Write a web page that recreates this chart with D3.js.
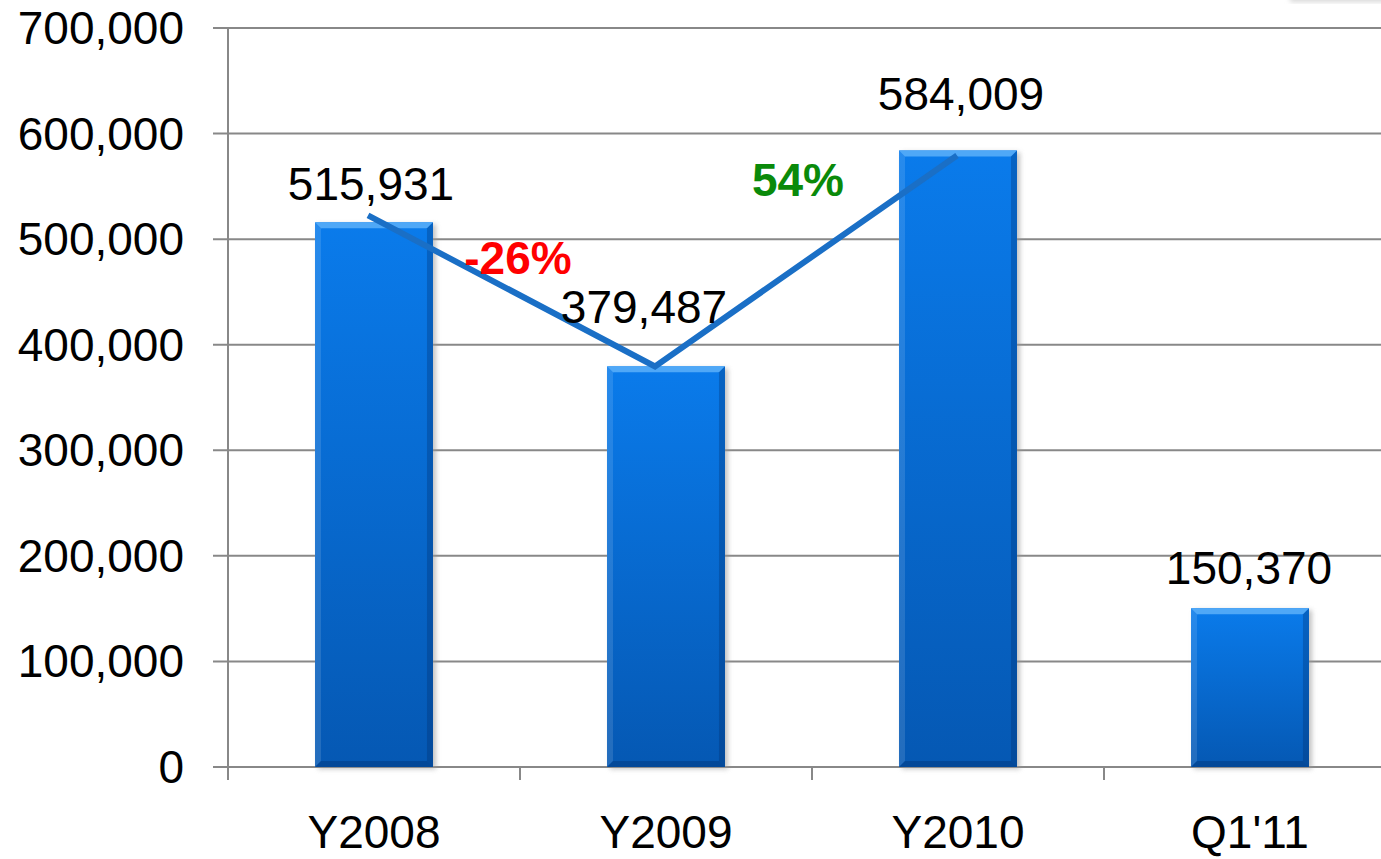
<!DOCTYPE html>
<html>
    <head>
        <meta charset="utf-8">
        <script type="text/javascript" src="https://cdn.jsdelivr.net/npm/d3@7/dist/d3.min.js"></script>
        <style>
            body { margin: 0; background: #fff; }
            text { font-family: "Liberation Sans", Arial, sans-serif; }
        </style>
    </head>
    <body>
        <svg></svg>

        <script>
            var categories = ["Y2008", "Y2009", "Y2010", "Q1'11"];
            var values = [515931, 379487, 584009, 150370];
            var yTicks = [0, 100000, 200000, 300000, 400000, 500000, 600000, 700000];

            // value label placement (px above bar top, x shift)
            var labelGap = [22, 43, 40, 24];
            var labelShift = [-3, -22, 3, -1];

            // trend line through first three bars
            var trendIdx = [0, 1, 2];
            var trendDx = [-6, -11, -1];
            var trendDy = [-7, 0, 5];
            var pctDx = [-2, -14];
            var pctDy = [-20, -62];
            var pctColors = ["#ff0000", "#0a8a0a"];

            var w = 1381, h = 859;

            var svg = d3.select("svg")
                    .attr("width", w)
                    .attr("height", h);

            var defs = svg.append("defs");

            var grad = defs.append("linearGradient")
                    .attr("id", "barGrad")
                    .attr("x1", 0).attr("y1", 0).attr("x2", 0).attr("y2", 1);
            grad.append("stop").attr("offset", "0%").attr("stop-color", "#0a7beb");
            grad.append("stop").attr("offset", "100%").attr("stop-color", "#0558b3");

            defs.append("filter")
                    .attr("id", "shadow")
                    .attr("x", "-20%").attr("y", "-20%").attr("width", "140%").attr("height", "140%")
                    .append("feGaussianBlur").attr("stdDeviation", 2.5);

            var x = d3.scaleBand()
                    .domain(categories)
                    .range([228, 1396])
                    .paddingInner(0.596)
                    .paddingOuter(0.298);

            var y = d3.scaleLinear()
                    .domain([0, 700000])
                    .range([767, 28]);

            // faint shadow at top right
            svg.append("rect")
                    .attr("x", 1290).attr("y", -8).attr("width", 110).attr("height", 10)
                    .attr("fill", "#d8d8d8")
                    .attr("filter", "url(#shadow)");

            // gridlines
            svg.append("g")
                    .selectAll("line")
                    .data(yTicks)
                    .enter().append("line")
                    .attr("x1", 213)
                    .attr("x2", w)
                    .attr("y1", function(d) { return y(d); })
                    .attr("y2", function(d) { return y(d); })
                    .attr("stroke", "#888")
                    .attr("stroke-width", 2);

            // y axis line
            svg.append("line")
                    .attr("x1", 228).attr("x2", 228)
                    .attr("y1", y(700000)).attr("y2", 780)
                    .attr("stroke", "#888")
                    .attr("stroke-width", 2);

            // x tick marks on category boundaries
            var step = x.step();
            svg.append("g")
                    .selectAll("line")
                    .data(d3.range(categories.length + 1))
                    .enter().append("line")
                    .attr("x1", function(i) { return x.range()[0] + i * step; })
                    .attr("x2", function(i) { return x.range()[0] + i * step; })
                    .attr("y1", y(0))
                    .attr("y2", 780)
                    .attr("stroke", "#888")
                    .attr("stroke-width", 2);

            // y tick labels
            var fmt = d3.format(",");
            svg.append("g")
                    .selectAll("text")
                    .data(yTicks)
                    .enter().append("text")
                    .attr("x", 184)
                    .attr("y", function(d) { return y(d) + 16; })
                    .attr("text-anchor", "end")
                    .attr("font-size", 46)
                    .attr("fill", "#000")
                    .text(function(d) { return fmt(d); });

            // x labels
            svg.append("g")
                    .selectAll("text")
                    .data(categories)
                    .enter().append("text")
                    .attr("x", function(d) { return x(d) + x.bandwidth() / 2; })
                    .attr("y", 848)
                    .attr("text-anchor", "middle")
                    .attr("font-size", 46)
                    .attr("fill", "#000")
                    .text(function(d) { return d; });

            // bars
            var bars = svg.append("g")
                    .selectAll("g")
                    .data(values)
                    .enter().append("g");

            var bev = 6;

            bars.append("rect")
                    .attr("x", function(d, i) { return x(categories[i]) + 3; })
                    .attr("y", function(d) { return y(d) + 2; })
                    .attr("width", x.bandwidth())
                    .attr("height", function(d) { return y(0) - y(d); })
                    .attr("fill", "#9a9a9a")
                    .attr("opacity", 0.6)
                    .attr("filter", "url(#shadow)");

            bars.append("rect")
                    .attr("x", function(d, i) { return x(categories[i]); })
                    .attr("y", function(d) { return y(d); })
                    .attr("width", x.bandwidth())
                    .attr("height", function(d) { return y(0) - y(d); })
                    .attr("fill", "url(#barGrad)");

            function bevelPoly(side) {
                return function(d, i) {
                    var x0 = x(categories[i]), x1 = x0 + x.bandwidth();
                    var y0 = y(d), y1 = y(0);
                    var p;
                    if (side === "top") p = [[x0, y0], [x1, y0], [x1 - bev, y0 + bev], [x0 + bev, y0 + bev]];
                    if (side === "left") p = [[x0, y0], [x0 + bev, y0 + bev], [x0 + bev, y1 - bev], [x0, y1]];
                    if (side === "right") p = [[x1, y0], [x1 - bev, y0 + bev], [x1 - bev, y1 - bev], [x1, y1]];
                    if (side === "bottom") p = [[x0, y1], [x0 + bev, y1 - bev], [x1 - bev, y1 - bev], [x1, y1]];
                    return p.map(function(q) { return q.join(","); }).join(" ");
                };
            }

            bars.append("polygon").attr("points", bevelPoly("top")).attr("fill", "#4fa8f7");
            bars.append("polygon").attr("points", bevelPoly("left")).attr("fill", "#ffffff").attr("opacity", 0.12);
            bars.append("polygon").attr("points", bevelPoly("right")).attr("fill", "#002a66").attr("opacity", 0.3);
            bars.append("polygon").attr("points", bevelPoly("bottom")).attr("fill", "#002a66").attr("opacity", 0.35);

            // trend line
            var trendPts = trendIdx.map(function(k, j) {
                return [x(categories[k]) + x.bandwidth() / 2 + trendDx[j], y(values[k]) + trendDy[j]];
            });
            svg.append("path")
                    .attr("d", d3.line()(trendPts))
                    .attr("fill", "none")
                    .attr("stroke", "#1a6fc6")
                    .attr("stroke-width", 6);

            // value labels
            svg.append("g")
                    .selectAll("text")
                    .data(values)
                    .enter().append("text")
                    .attr("x", function(d, i) { return x(categories[i]) + x.bandwidth() / 2 + labelShift[i]; })
                    .attr("y", function(d, i) { return y(d) - labelGap[i]; })
                    .attr("text-anchor", "middle")
                    .attr("font-size", 46)
                    .attr("fill", "#000")
                    .text(function(d) { return fmt(d); });

            // percent change labels
            var pctFmt = d3.format(".0%");
            for (var j = 0; j < trendIdx.length - 1; j++) {
                var a = values[trendIdx[j]], b = values[trendIdx[j + 1]];
                var mx = (x(categories[trendIdx[j]]) + x(categories[trendIdx[j + 1]])) / 2 + x.bandwidth() / 2;
                var my = (y(a) + y(b)) / 2;
                svg.append("text")
                        .attr("x", mx + pctDx[j])
                        .attr("y", my + pctDy[j])
                        .attr("text-anchor", "middle")
                        .attr("font-size", 46)
                        .attr("font-weight", "bold")
                        .attr("fill", pctColors[j])
                        .text(pctFmt((b - a) / a).replace("\u2212", "-"));
            }
        </script>
    </body>
</html>
